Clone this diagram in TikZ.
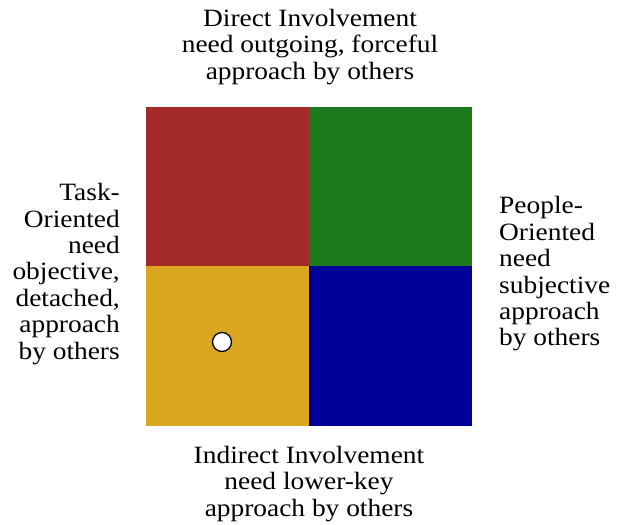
\documentclass[tikz,border=0pt]{standalone}
\usepackage{fontspec}
\setmainfont[FakeStretch=1.1]{Liberation Serif}
\usetikzlibrary{positioning}
\definecolor{taskred}{HTML}{A52A2A}
\definecolor{peoplegreen}{HTML}{1C7A1C}
\definecolor{taskgold}{HTML}{DAA520}
\definecolor{peopleblue}{HTML}{000099}
\begin{document}
\begin{tikzpicture}[x=1bp,y=-1bp,
    quad/.style={minimum width=163bp,minimum height=160bp,inner sep=0pt,outer sep=0pt},
    lbl/.style={font=\fontsize{25}{26.5}\selectfont,inner sep=0pt}]
  \useasboundingbox (0,0) rectangle (621,525);
  \node[quad,fill=taskred] (tl) at (227.5,187) {};
  \node[quad,fill=peoplegreen] (tr) at (390.5,187) {};
  \node[quad,fill=taskgold] (bl) at (227.5,346) {};
  \node[quad,fill=peopleblue] (br) at (390.5,346) {};
  \node[lbl,align=center] (direct) at (310,47)
    {Direct Involvement\\need outgoing, forceful\\approach by others};
  \node[lbl,align=center] (indirect) at (309,484)
    {Indirect Involvement\\need lower-key\\approach by others};
  \node[lbl,align=right,anchor=east] (task) at (120,274)
    {Task-\\Oriented\\need\\objective,\\detached,\\approach\\by others};
  \node[lbl,align=left,anchor=west] (people) at (499,274)
    {People-\\Oriented\\need\\subjective\\approach\\by others};
  \node[circle,draw=black,line width=1.3pt,fill=white,minimum size=19bp,inner sep=0pt] (dot) at (222,342) {};
\end{tikzpicture}
\end{document}
